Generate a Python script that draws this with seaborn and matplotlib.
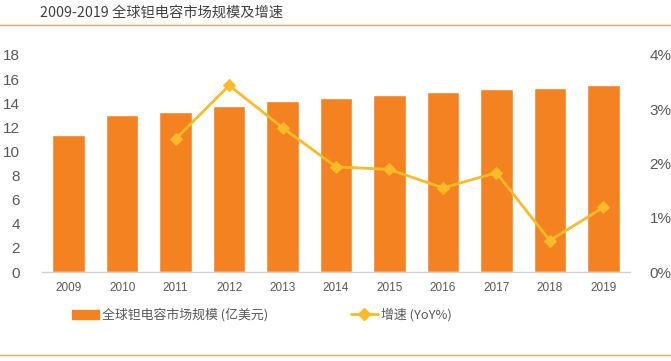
import matplotlib
matplotlib.use('Agg')
import matplotlib.pyplot as plt
import seaborn as sns
import pandas as pd
from matplotlib.lines import Line2D
from matplotlib.patches import Patch

# 数据
years = ['2009', '2010', '2011', '2012', '2013', '2014', '2015', '2016', '2017', '2018', '2019']
market_size = [11.4, 13.0, 13.3, 13.8, 14.15, 14.4, 14.7, 14.9, 15.2, 15.3, 15.5]
growth_years = ['2011', '2012', '2013', '2014', '2015', '2016', '2017', '2018', '2019']
growth_pct = [2.45, 3.44, 2.66, 1.94, 1.89, 1.55, 1.83, 0.58, 1.19]
left_ticks = [0, 2, 4, 6, 8, 10, 12, 14, 16, 18]
right_ticks = [0, 1, 2, 3, 4]

bar_color = '#F58220'
line_color = '#FBBA27'
text_color = '#595959'
num_font = ['Liberation Sans', 'DejaVu Sans']

sns.set_style('white')
plt.rcParams['font.family'] = ['Noto Sans CJK SC', 'DejaVu Sans']

df_bar = pd.DataFrame({'year': years, 'size': market_size})
df_line = pd.DataFrame({'year': growth_years, 'growth': growth_pct})
df_line['pos'] = [years.index(y) for y in growth_years]

fig = plt.figure(figsize=(6.71, 3.61), dpi=100)
ax = fig.add_axes([42 / 671, 1 - 272 / 361, 588 / 671, 217 / 361])

sns.barplot(data=df_bar, x='year', y='size', color=bar_color, width=0.61,
            saturation=1, ax=ax)
ax.set_xlim(-0.5, 10.5)
ax.set_ylim(0, 18)
ax.set_yticks(left_ticks)
ax.set_xlabel('')
ax.set_ylabel('')
ax.tick_params(axis='y', labelsize=11, colors=text_color, length=0, pad=16)
ax.tick_params(axis='x', labelsize=8.5, colors=text_color, length=0, pad=7)
for lab in ax.get_xticklabels() + ax.get_yticklabels():
    lab.set_family(num_font)
for s in ['top', 'right', 'left']:
    ax.spines[s].set_visible(False)
ax.spines['bottom'].set_color('#D0D0D0')
ax.spines['bottom'].set_linewidth(1)

ax2 = ax.twinx()
sns.lineplot(data=df_line, x='pos', y='growth', color=line_color, linewidth=2,
             marker='D', markersize=6.5, markeredgecolor=line_color, ax=ax2)
ax2.set_ylim(0, 4)
ax2.set_yticks(right_ticks)
ax2.set_yticklabels([f'{t}%' for t in right_ticks])
ax2.set_xlim(-0.5, 10.5)
ax2.set_xlabel('')
ax2.set_ylabel('')
ax2.tick_params(axis='y', labelsize=11, colors=text_color, length=0, pad=14)
for lab in ax2.get_yticklabels():
    lab.set_family(num_font)
for s in ['top', 'right', 'left', 'bottom']:
    ax2.spines[s].set_visible(False)

# 图例
handles = [Patch(facecolor=bar_color, edgecolor=bar_color),
           Line2D([0], [0], color=line_color, linewidth=2, marker='D',
                  markersize=6)]
labels = ['全球钽电容市场规模 (亿美元)', '增速 (YoY%)']
fig.legend(handles, labels, loc='center left', bbox_to_anchor=(60 / 671, 1 - 315 / 361),
           ncol=2, frameon=False, fontsize=9.3, labelcolor=text_color,
           columnspacing=6.4, handlelength=2.1, handletextpad=0.25)

# 标题与分隔线
fig.text(40 / 671, 1 - 13 / 361, '2009-2019 全球钽电容市场规模及增速',
         fontsize=10.3, color='#404040', va='center', ha='left')
fig.add_artist(Line2D([0, 1], [1 - 25 / 361, 1 - 25 / 361],
                      color='#F4A460', linewidth=1, transform=fig.transFigure))
fig.add_artist(Line2D([0, 1], [1 - 355 / 361, 1 - 355 / 361],
                      color='#F4A460', linewidth=1, transform=fig.transFigure))

fig.savefig('out.png', dpi=100)
